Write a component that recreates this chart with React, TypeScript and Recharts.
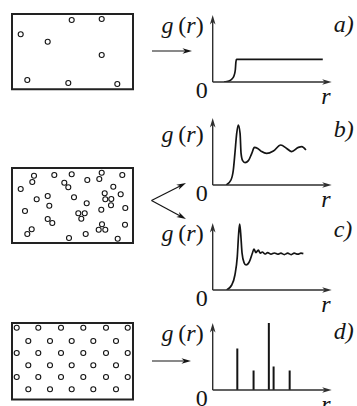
import React from 'react';
import {
  ComposedChart,
  Scatter,
  Line,
  Bar,
  XAxis,
  YAxis,
  ReferenceArea,
  ReferenceLine,
} from 'recharts';

// ---------- data ----------
// particle centres inside each box (box units, y measured downward from the top edge)
const gasParticles: [number, number][] = [
  [59.7, 6], [89.7, 5], [8.7, 20.3], [35.7, 27.7], [89.7, 41],
  [15.3, 66], [56.3, 69], [105.3, 70],
];

const liquidParticles: [number, number][] = [
  [22, 7.7], [20.3, 14], [42.3, 7], [59.7, 6.3], [52.3, 14.7], [56.3, 19.3],
  [75.3, 12], [89.7, 4.7], [87.3, 11], [110.3, 7], [8.7, 21], [101.3, 18.7],
  [24.7, 31.3], [35.7, 28], [37.3, 37.7], [62, 29.3], [74.7, 35.3], [92.7, 25.3],
  [93.3, 31.3], [99.3, 31], [108.7, 26.3], [99, 37.3], [13, 43], [89.3, 41.7],
  [113.3, 40], [66.3, 45.3], [72.7, 45.3], [69.3, 50.7], [35.7, 51], [40.3, 55],
  [19.7, 61.3], [15.3, 66], [90, 56.3], [86.7, 61.7], [93.3, 61.7], [113, 56.7],
  [57, 70], [73.7, 66], [105.7, 70.7],
];

const crystalParticles: [number, number][] = [
  [4.7, 4.7], [26.3, 4.7], [49, 4.7], [71.3, 4.7], [94, 4.7], [115.7, 4.7],
  [16.3, 18], [38, 18], [59.7, 18], [81.3, 18], [104, 18],
  [4.7, 30], [26.3, 30], [49, 30], [71.3, 30], [94, 30], [115.7, 30],
  [16.3, 42.3], [38, 42.3], [59.7, 42.3], [81.3, 42.3], [104, 42.3],
  [4.7, 54], [26.3, 54], [49, 54], [71.3, 54], [94, 54], [115.7, 54],
  [16.3, 66.3], [38, 66.3], [59.7, 66.3], [81.3, 66.3], [104, 66.3],
];

// radial distribution functions: [r, g(r)]
const gasG: [number, number][] = [
  [0.57, 0], [0.82, 0.05], [0.97, 0.15], [1.07, 0.3], [1.14, 0.6],
  [1.17, 1.0], [1.2, 1.13], [5.55, 1.13],
];

const liquidG: [number, number][] = [
  [0.68, 0], [0.92, 0.25], [1.04, 0.75], [1.12, 1.58], [1.21, 2.58], [1.29, 3.0],
  [1.38, 2.58], [1.43, 1.58], [1.51, 1.22], [1.63, 1.12], [1.8, 1.22], [1.97, 1.58],
  [2.1, 1.88], [2.27, 1.83], [2.47, 1.67], [2.72, 1.58], [3.06, 1.7], [3.43, 2.0],
  [3.73, 1.83], [3.98, 1.67], [4.32, 1.88], [4.49, 1.92], [4.7, 1.75],
];

const glassG: [number, number][] = [
  [0.7, 0], [0.96, 0.25], [1.12, 0.75], [1.24, 1.67], [1.31, 2.84], [1.36, 3.3],
  [1.41, 2.84], [1.48, 1.84], [1.58, 1.37], [1.68, 1.25], [1.85, 1.42], [2.0, 1.84],
  [2.08, 2.04], [2.18, 1.87], [2.3, 2.0], [2.4, 1.84], [2.5, 1.9], [2.64, 1.8],
  [2.77, 1.87], [2.94, 1.79], [3.11, 1.85], [3.28, 1.79], [3.44, 1.84], [3.61, 1.77],
  [3.78, 1.84], [3.95, 1.77], [4.11, 1.84], [4.29, 1.79], [4.45, 1.84], [4.57, 1.82],
];

const crystalG: [number, number][] = [
  [1.26, 2.08], [2.08, 0.97], [2.85, 3.35], [3.09, 1.17], [3.9, 0.97],
];

const panelTags = ['a)', 'b)', 'c)', 'd)'];

// ---------- styling ----------
const INK = '#141414';
const AXIS = '#2e2e2e';
const FONT = '"Liberation Serif", "Times New Roman", serif';
const FS = 24;

const toPoints = (arr: [number, number][]) => arr.map(([x, y]) => ({ x, y }));
const toCurve = (arr: [number, number][]) => arr.map(([r, g]) => ({ r, g }));

function headPath(x: number, y: number, angle: number, len = 9.5, half = 2.8) {
  const c = Math.cos(angle);
  const s = Math.sin(angle);
  const p = (dx: number, dy: number) => `${x + dx * c - dy * s},${y + dx * s + dy * c}`;
  return `M${p(0, 0)} L${p(-len, -half)} L${p(-len * 0.72, 0)} L${p(-len, half)} Z`;
}

const ArrowShape = (props: any) => {
  const { x1, y1, x2, y2 } = props;
  const a = Math.atan2(y2 - y1, x2 - x1);
  return (
    <g>
      <line
        x1={x1}
        y1={y1}
        x2={x2 - 6 * Math.cos(a)}
        y2={y2 - 6 * Math.sin(a)}
        stroke={INK}
        strokeWidth={1.2}
      />
      <path d={headPath(x2, y2, a)} fill={INK} />
    </g>
  );
};

const Particle = (p: any) => (
  <circle cx={p.cx} cy={p.cy} r={2.5} fill="#fff" stroke={INK} strokeWidth={1.1} />
);

type BoxProps = {
  top: number;
  height: number;
  particles: [number, number][];
  arrows: [number, number, number, number][];
};

function BoxPanel({ top, height, particles, arrows }: BoxProps) {
  return (
    <div style={{ position: 'absolute', left: 0, top: top - 10 }}>
      <ComposedChart width={200} height={100} margin={{ top: 0, right: 0, bottom: 0, left: 0 }}>
        <XAxis type="number" dataKey="x" domain={[-12, 188]} hide allowDataOverflow />
        <YAxis type="number" dataKey="y" domain={[-10, 90]} reversed hide allowDataOverflow />
        <ReferenceArea
          x1={0}
          x2={121}
          y1={0}
          y2={height}
          fill="none"
          fillOpacity={0}
          stroke="#222"
          strokeWidth={2}
          ifOverflow="visible"
        />
        <Scatter data={toPoints(particles)} isAnimationActive={false} shape={Particle} />
        {arrows.map((s, i) => (
          <ReferenceLine
            key={i}
            segment={[{ x: s[0], y: s[1] }, { x: s[2], y: s[3] }]}
            shape={ArrowShape}
            ifOverflow="visible"
          />
        ))}
      </ComposedChart>
    </div>
  );
}

const HorizontalAxis = (props: any) => {
  const { x1, x2, y1 } = props;
  const left = Math.min(x1, x2);
  const right = Math.max(x1, x2);
  const y = y1;
  return (
    <g>
      <line x1={left} y1={y} x2={right - 6} y2={y} stroke={AXIS} strokeWidth={1.4} />
      <path d={headPath(right, y, 0)} fill={AXIS} />
      <text x={left - 5} y={y + 16} textAnchor="end" fontFamily={FONT} fontSize={FS} fill={INK}>
        0
      </text>
      <text x={right - 10.5} y={y + 22} fontFamily={FONT} fontSize={FS} fontStyle="italic" fill={INK}>
        r
      </text>
    </g>
  );
};

const makeVerticalAxis = (tag: string, gDy: number, tagDy: number) => (props: any) => {
  const { x1, y1, y2 } = props;
  const topY = Math.min(y1, y2);
  const bottomY = Math.max(y1, y2);
  const x = x1;
  return (
    <g>
      <line x1={x} y1={bottomY} x2={x} y2={topY + 6} stroke={AXIS} strokeWidth={1.4} />
      <path d={headPath(x, topY, -Math.PI / 2)} fill={AXIS} />
      <text x={x - 9} y={topY + gDy} textAnchor="end" fontFamily={FONT} fontSize={FS} fill={INK}>
        <tspan fontStyle="italic">g</tspan>
        <tspan>{'\u2009('}</tspan>
        <tspan fontStyle="italic">r</tspan>
        <tspan>)</tspan>
      </text>
      <text x={x + 121} y={topY + tagDy} fontFamily={FONT} fontSize={FS} fontStyle="italic" fill={INK}>
        {tag}
      </text>
    </g>
  );
};

type GraphProps = {
  plotTop: number;
  tag: string;
  gDy: number;
  tagDy: number;
  curve: [number, number][];
  sticks?: boolean;
};

function GraphPanel({ plotTop, tag, gDy, tagDy, curve, sticks }: GraphProps) {
  return (
    <div style={{ position: 'absolute', left: 150, top: plotTop - 22 }}>
      <ComposedChart
        width={207}
        height={124}
        data={toCurve(curve)}
        margin={{ top: 22, right: 25.3, bottom: 35, left: 62.7 }}
      >
        <XAxis type="number" dataKey="r" domain={[0, 6]} hide allowDataOverflow />
        <YAxis type="number" domain={[0, 3.35]} hide allowDataOverflow />
        {sticks ? (
          <Bar dataKey="g" barSize={2} fill={INK} isAnimationActive={false} />
        ) : (
          <Line
            dataKey="g"
            type="monotone"
            stroke={INK}
            strokeWidth={1.7}
            dot={false}
            activeDot={false}
            isAnimationActive={false}
          />
        )}
        <ReferenceLine y={0} shape={HorizontalAxis} ifOverflow="visible" />
        <ReferenceLine x={0} shape={makeVerticalAxis(tag, gDy, tagDy)} ifOverflow="visible" />
      </ComposedChart>
    </div>
  );
}

export default function App() {
  return (
    <div
      style={{
        position: 'relative',
        width: 357,
        height: 406,
        overflow: 'hidden',
        background: '#fff',
      }}
    >
      <style>{'html,body{margin:0;padding:0;overflow:hidden;background:#fff}'}</style>
      <BoxPanel top={14} height={75.3} particles={gasParticles} arrows={[[140, 37, 180, 37]]} />
      <BoxPanel
        top={168}
        height={75}
        particles={liquidParticles}
        arrows={[
          [139.5, 32.5, 174, 15],
          [139.5, 32.5, 174, 51],
        ]}
      />
      <BoxPanel top={322.7} height={76.6} particles={crystalParticles} arrows={[[140, 38, 179, 38]]} />

      <GraphPanel plotTop={15} tag={panelTags[0]} gDy={18.4} tagDy={17.4} curve={gasG} />
      <GraphPanel plotTop={118} tag={panelTags[1]} gDy={24.4} tagDy={19.4} curve={liquidG} />
      <GraphPanel plotTop={223} tag={panelTags[2]} gDy={17.7} tagDy={14.4} curve={glassG} />
      <GraphPanel plotTop={323} tag={panelTags[3]} gDy={17.7} tagDy={16} curve={crystalG} sticks />
    </div>
  );
}
